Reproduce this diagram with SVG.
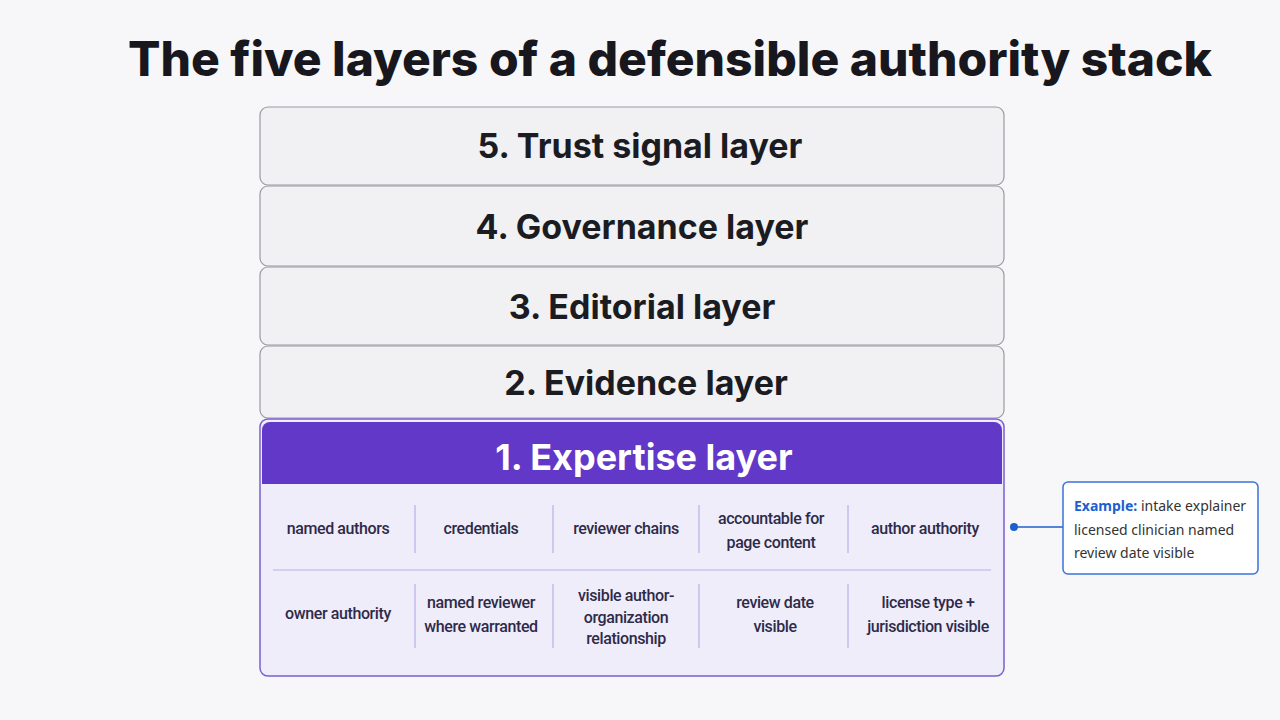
<svg xmlns="http://www.w3.org/2000/svg" width="1280" height="720" viewBox="0 0 1280 720">
<style>
.lay{fill:#f1f1f3;stroke:#9a9aa0;stroke-width:1.2}
.lt{font-family:Inter,"Liberation Sans",sans-serif;font-weight:700;font-size:34px;fill:#1b1b22;text-anchor:middle}
.ct{font-family:Roboto,"Liberation Sans",Arial,sans-serif;font-weight:500;font-size:16px;fill:#2e2a4a;text-anchor:middle;letter-spacing:-0.4px}
.dv{stroke:#b8aee6;stroke-width:1.2}
.ex{font-family:"Noto Sans","Liberation Sans",sans-serif;font-size:14px;fill:#333}
</style>
<rect width="1280" height="720" fill="#f7f7f9"/>
<text x="670" y="76" font-family="Inter,'Liberation Sans',sans-serif" font-weight="800" font-size="48" fill="#17171d" text-anchor="middle">The five layers of a defensible authority stack</text>
<g id="layer5"><rect class="lay" x="260" y="107" width="744" height="78" rx="8"/><text class="lt" x="640" y="158">5. Trust signal layer</text></g>
<g id="layer4"><rect class="lay" x="260" y="186" width="744" height="80" rx="8"/><text class="lt" x="642" y="239">4. Governance layer</text></g>
<g id="layer3"><rect class="lay" x="260" y="267" width="744" height="78" rx="8"/><text class="lt" x="642" y="319">3.  Editorial layer</text></g>
<g id="layer2"><rect class="lay" x="260" y="346" width="744" height="72" rx="8"/><text class="lt" x="646" y="395">2.  Evidence layer</text></g>
<g id="layer1">
<rect x="260" y="419" width="744" height="257" rx="8" fill="#efedf9" stroke="#7a5fd0" stroke-width="1.5"/>
<path d="M262 430 a8 8 0 0 1 8 -8 h724 a8 8 0 0 1 8 8 v54 h-740 z" fill="#6238c8"/>
<text x="644" y="470" font-family="Inter,'Liberation Sans',sans-serif" font-weight="700" font-size="36" fill="#fff" text-anchor="middle">1. Expertise layer</text>
<line class="dv" x1="273" y1="570" x2="991" y2="570"/>
<g class="dv"><line x1="415" y1="505" x2="415" y2="553"/><line x1="553" y1="505" x2="553" y2="553"/><line x1="699" y1="505" x2="699" y2="553"/><line x1="848" y1="505" x2="848" y2="553"/>
<line x1="415" y1="584" x2="415" y2="648"/><line x1="553" y1="584" x2="553" y2="648"/><line x1="699" y1="584" x2="699" y2="648"/><line x1="848" y1="584" x2="848" y2="648"/></g>
<text class="ct" x="338" y="534">named authors</text>
<text class="ct" x="481" y="534">credentials</text>
<text class="ct" x="626" y="534">reviewer chains</text>
<text class="ct" x="771" y="524">accountable for</text><text class="ct" x="771" y="548">page content</text>
<text class="ct" x="925" y="534">author authority</text>
<text class="ct" x="338" y="619">owner authority</text>
<text class="ct" x="481" y="608">named reviewer</text><text class="ct" x="481" y="632">where warranted</text>
<text class="ct" x="626" y="601">visible author-</text><text class="ct" x="626" y="623">organization</text><text class="ct" x="626" y="644">relationship</text>
<text class="ct" x="775" y="608">review date</text><text class="ct" x="775" y="632">visible</text>
<text class="ct" x="928" y="608">license type +</text><text class="ct" x="928" y="632">jurisdiction visible</text>
</g>
<g id="connectors"><circle cx="1014" cy="527" r="4" fill="#1e5fd0"/><line x1="1014" y1="527" x2="1063" y2="527" stroke="#1e5fd0" stroke-width="1.5"/></g>
<g id="example">
<rect x="1063" y="482" width="195" height="92" rx="5" fill="#fff" stroke="#3b73d8" stroke-width="1.5"/>
<text class="ex" x="1074" y="511"><tspan fill="#1e5fd0" font-weight="700">Example:</tspan> intake explainer</text>
<text class="ex" x="1074" y="535">licensed clinician named</text>
<text class="ex" x="1074" y="558">review date visible</text>
</g>
</svg>
